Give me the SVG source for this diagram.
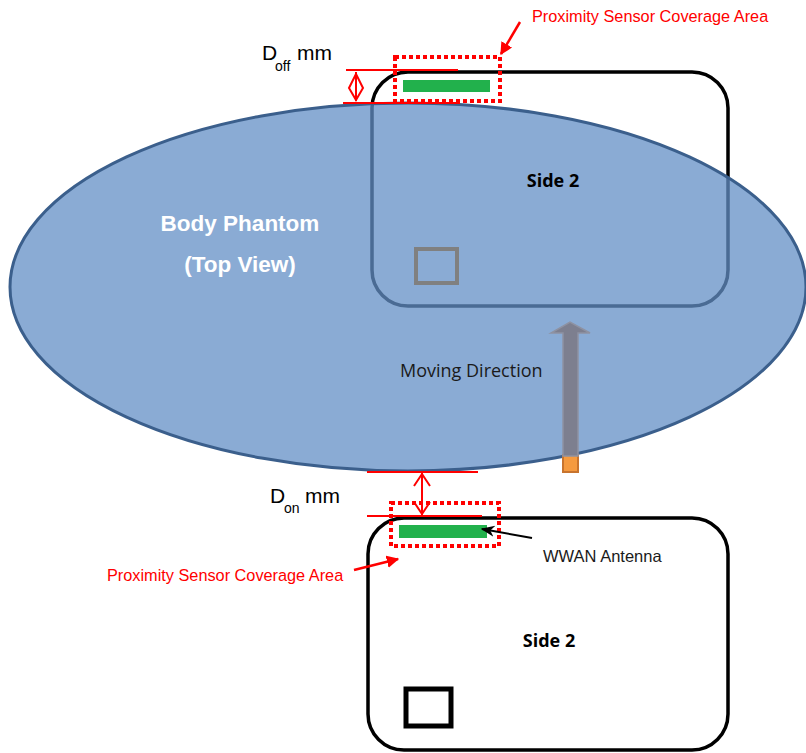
<svg xmlns="http://www.w3.org/2000/svg" width="806" height="753" viewBox="0 0 806 753">
<defs>
<style>
.dev{fill:none;stroke:#000;stroke-width:3.5}
.zone{fill:none;stroke:#ff0000;stroke-width:4;stroke-dasharray:4 3}
.ant{fill:#22b14c}
.red{stroke:#ff0000;stroke-width:2;fill:none}
.lbl{font-family:"Liberation Sans",Arial,sans-serif;font-size:16.3px;fill:#ff0000}
.dim{font-family:"Liberation Sans",Arial,sans-serif;font-size:21px;fill:#000}
.sub{font-family:"Liberation Sans",Arial,sans-serif;font-size:14px;fill:#000}
.side{font-family:"Open Sans","Liberation Sans",sans-serif;font-size:18px;font-weight:bold;fill:#000}
.bp{font-family:"Liberation Sans",Arial,sans-serif;font-size:22.5px;font-weight:bold;fill:#fff}
</style>
<marker id="rh" viewBox="0 0 10 10" refX="9" refY="5" markerWidth="5" markerHeight="5" orient="auto"><path d="M0,0 L10,5 L0,10 z" fill="#ff0000"/></marker>
<marker id="bh" viewBox="0 0 10 10" refX="9" refY="5" markerWidth="7" markerHeight="7" orient="auto"><path d="M0,1 L10,5 L0,9 L3,5 z" fill="#000"/></marker>
</defs>

<g id="top-device">
<rect class="dev" x="372" y="72" width="356" height="234" rx="36"/>
</g>

<g id="body-phantom">
<ellipse cx="408" cy="287" rx="398" ry="184" fill="rgb(99,143,197)" fill-opacity="0.75" stroke="#3b5f8c" stroke-width="3"/>
<text class="bp" x="240" y="231" text-anchor="middle">Body Phantom</text>
<text class="bp" x="240" y="272" text-anchor="middle">(Top View)</text>
</g>

<g id="top-device-parts">
<rect x="416" y="249" width="41" height="34" fill="none" stroke="#808080" stroke-width="4"/>
<rect class="ant" x="403" y="80" width="87" height="12"/>
<rect class="zone" x="395" y="57" width="105" height="44"/>
<text class="side" x="553" y="187" text-anchor="middle">Side 2</text>
</g>

<g id="moving-arrow">
<rect x="563" y="455" width="15" height="17" fill="#f59a3f" stroke="#c8742e" stroke-width="2"/>
<path d="M563,333 L551,333 L570,322 L590,333 L578,333 L578,456 L563,456 z" fill="#7d7f8f" stroke="#8e92a2" stroke-width="1.5"/>
<text x="400" y="377" font-family="Open Sans,Liberation Sans,sans-serif" font-size="18" fill="#1a1a1a">Moving Direction</text>
</g>

<g id="bottom-device">
<rect class="dev" x="368" y="518" width="360" height="232" rx="36"/>
<rect x="406" y="689" width="45" height="37" fill="none" stroke="#000" stroke-width="5"/>
<rect class="ant" x="399" y="525" width="88" height="13"/>
<rect class="zone" x="391" y="503" width="108" height="43"/>
<text class="side" x="549" y="647" text-anchor="middle">Side 2</text>
</g>

<g id="connectors">
<line class="red" x1="346" y1="70" x2="458" y2="70"/>
<line class="red" x1="343" y1="103" x2="460" y2="103"/>
<line class="red" x1="356" y1="72" x2="356" y2="101"/>
<path class="red" d="M349,88 L356,74 L363,88 L356,100 z"/>
<line class="red" x1="367" y1="472" x2="478" y2="472"/>
<line class="red" x1="367" y1="516" x2="482" y2="516"/>
<line class="red" x1="422" y1="473" x2="422" y2="515"/>
<path class="red" d="M414,486 L422,474 L430,486"/>
<path class="red" d="M414,502 L422,514 L430,502"/>
<line x1="520" y1="22" x2="501" y2="54" stroke="#ff0000" stroke-width="2.5" marker-end="url(#rh)"/>
<line x1="354" y1="570" x2="398" y2="559" stroke="#ff0000" stroke-width="2.5" marker-end="url(#rh)"/>
<line x1="532" y1="538" x2="482" y2="529" stroke="#000" stroke-width="2" marker-end="url(#bh)"/>
</g>

<g id="labels">
<text class="lbl" x="532" y="22">Proximity Sensor Coverage Area</text>
<text class="lbl" x="107" y="581">Proximity Sensor Coverage Area</text>
<text x="543" y="562" font-family="Liberation Sans,Arial,sans-serif" font-size="16.5" fill="#1a1a1a">WWAN Antenna</text>
<text class="dim" x="262" y="60">D</text>
<text class="sub" x="275" y="71">off</text>
<text class="dim" x="297" y="60">mm</text>
<text class="dim" x="270" y="503">D</text>
<text class="sub" x="284" y="513">on</text>
<text class="dim" x="305" y="503">mm</text>
</g>
</svg>
